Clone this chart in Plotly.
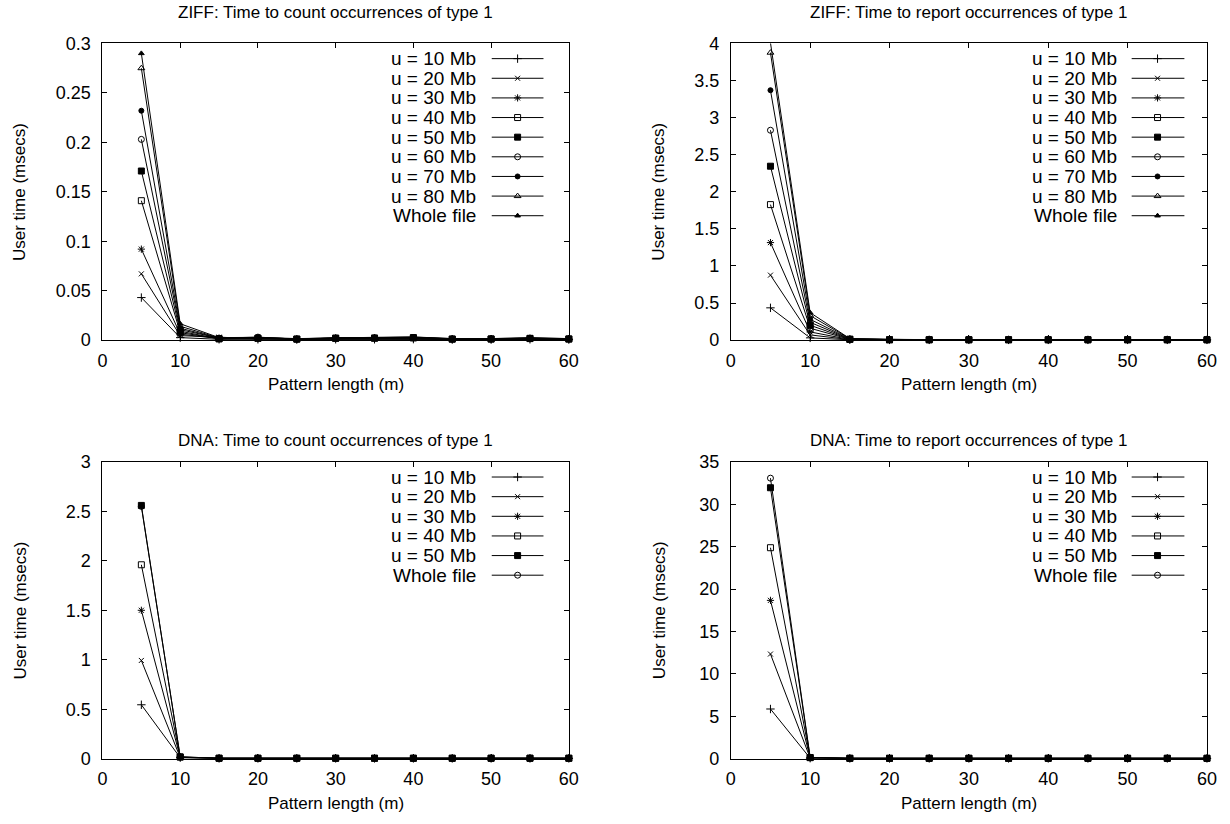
import plotly.graph_objects as go

W, H = 1230, 824
# measured viewer mapping: image = offset + scale * layout
SX, OXF = 0.993, 2.7
SY, OYF = 0.979, 8.1
FONT = "Liberation Sans, Arial, Helvetica, sans-serif"

# ---------------- data ----------------
m = [5, 10, 15, 20, 25, 30, 35, 40, 45, 50, 55, 60]
x_ticks = [0, 10, 20, 30, 40, 50, 60]

ziff_labels = ["u = 10 Mb", "u = 20 Mb", "u = 30 Mb", "u = 40 Mb", "u = 50 Mb",
               "u = 60 Mb", "u = 70 Mb", "u = 80 Mb", "Whole file"]
dna_labels = ["u = 10 Mb", "u = 20 Mb", "u = 30 Mb", "u = 40 Mb", "u = 50 Mb", "Whole file"]

# ZIFF: count (msecs)
zc_u10 = [0.043, 0.0025, 0.0008, 0.0008, 0.0005, 0.0008, 0.0008, 0.0010, 0.0005, 0.0005, 0.0008, 0.0005]
zc_u20 = [0.067, 0.0045, 0.0030, 0.0012, 0.0008, 0.0012, 0.0015, 0.0015, 0.0008, 0.0008, 0.0010, 0.0008]
zc_u30 = [0.092, 0.0060, 0.0015, 0.0015, 0.0008, 0.0015, 0.0015, 0.0020, 0.0008, 0.0010, 0.0015, 0.0010]
zc_u40 = [0.141, 0.0075, 0.0015, 0.0018, 0.0010, 0.0018, 0.0020, 0.0022, 0.0010, 0.0010, 0.0015, 0.0010]
zc_u50 = [0.171, 0.0090, 0.0012, 0.0020, 0.0010, 0.0020, 0.0020, 0.0025, 0.0010, 0.0012, 0.0018, 0.0012]
zc_u60 = [0.203, 0.0105, 0.0020, 0.0030, 0.0010, 0.0020, 0.0022, 0.0025, 0.0012, 0.0012, 0.0020, 0.0012]
zc_u70 = [0.232, 0.0120, 0.0020, 0.0025, 0.0012, 0.0022, 0.0025, 0.0028, 0.0012, 0.0015, 0.0020, 0.0015]
zc_u80 = [0.275, 0.0140, 0.0022, 0.0025, 0.0012, 0.0025, 0.0025, 0.0030, 0.0015, 0.0015, 0.0022, 0.0015]
zc_whole = [0.290, 0.0165, 0.0025, 0.0028, 0.0015, 0.0025, 0.0028, 0.0032, 0.0015, 0.0015, 0.0025, 0.0015]

# ZIFF: report (msecs)
zr_u10 = [0.435, 0.03, 0.004, 0.003, 0.003, 0.003, 0.003, 0.003, 0.003, 0.003, 0.003, 0.003]
zr_u20 = [0.876, 0.07, 0.006, 0.003, 0.003, 0.003, 0.003, 0.003, 0.003, 0.003, 0.003, 0.003]
zr_u30 = [1.315, 0.11, 0.008, 0.004, 0.004, 0.004, 0.004, 0.004, 0.004, 0.004, 0.004, 0.004]
zr_u40 = [1.827, 0.16, 0.010, 0.004, 0.004, 0.004, 0.004, 0.004, 0.004, 0.004, 0.004, 0.004]
zr_u50 = [2.345, 0.20, 0.012, 0.005, 0.005, 0.005, 0.005, 0.005, 0.005, 0.005, 0.005, 0.005]
zr_u60 = [2.830, 0.24, 0.014, 0.005, 0.005, 0.005, 0.005, 0.005, 0.005, 0.005, 0.005, 0.005]
zr_u70 = [3.370, 0.28, 0.016, 0.006, 0.006, 0.006, 0.006, 0.006, 0.006, 0.006, 0.006, 0.006]
zr_u80 = [3.876, 0.33, 0.018, 0.006, 0.006, 0.006, 0.006, 0.006, 0.006, 0.006, 0.006, 0.006]
zr_whole = [4.010, 0.37, 0.020, 0.007, 0.007, 0.007, 0.007, 0.007, 0.007, 0.007, 0.007, 0.007]

# DNA: count (msecs)
dc_u10 = [0.545, 0.010, 0.003, 0.003, 0.003, 0.003, 0.003, 0.003, 0.003, 0.003, 0.003, 0.003]
dc_u20 = [0.993, 0.012, 0.003, 0.003, 0.003, 0.003, 0.003, 0.003, 0.003, 0.003, 0.003, 0.003]
dc_u30 = [1.500, 0.014, 0.004, 0.004, 0.004, 0.004, 0.004, 0.004, 0.004, 0.004, 0.004, 0.004]
dc_u40 = [1.960, 0.016, 0.004, 0.004, 0.004, 0.004, 0.004, 0.004, 0.004, 0.004, 0.004, 0.004]
dc_u50 = [2.560, 0.018, 0.005, 0.005, 0.005, 0.005, 0.005, 0.005, 0.005, 0.005, 0.005, 0.005]
dc_whole = [2.550, 0.018, 0.005, 0.005, 0.005, 0.005, 0.005, 0.005, 0.005, 0.005, 0.005, 0.005]

# DNA: report (msecs)
dr_u10 = [5.86, 0.06, 0.03, 0.03, 0.03, 0.03, 0.03, 0.03, 0.03, 0.03, 0.03, 0.03]
dr_u20 = [12.34, 0.08, 0.03, 0.03, 0.03, 0.03, 0.03, 0.03, 0.03, 0.03, 0.03, 0.03]
dr_u30 = [18.67, 0.10, 0.04, 0.04, 0.04, 0.04, 0.04, 0.04, 0.04, 0.04, 0.04, 0.04]
dr_u40 = [24.88, 0.12, 0.04, 0.04, 0.04, 0.04, 0.04, 0.04, 0.04, 0.04, 0.04, 0.04]
dr_u50 = [31.95, 0.14, 0.05, 0.05, 0.05, 0.05, 0.05, 0.05, 0.05, 0.05, 0.05, 0.05]
dr_whole = [33.08, 0.15, 0.05, 0.05, 0.05, 0.05, 0.05, 0.05, 0.05, 0.05, 0.05, 0.05]

y_ticks_zc = [0, 0.05, 0.1, 0.15, 0.2, 0.25, 0.3]
y_ticks_zr = [0, 0.5, 1, 1.5, 2, 2.5, 3, 3.5, 4]
y_ticks_dc = [0, 0.5, 1, 1.5, 2, 2.5, 3]
y_ticks_dr = [0, 5, 10, 15, 20, 25, 30, 35]

titles = ["ZIFF: Time to count occurrences of type 1",
          "ZIFF: Time to report occurrences of type 1",
          "DNA: Time to count occurrences of type 1",
          "DNA: Time to report occurrences of type 1"]
x_title = "Pattern length (m)"
y_title = "User time (msecs)"

# gnuplot point types 1..9
SYM = ['cross-thin-open', 'x-thin-open', 'asterisk-open', 'square-open', 'square',
       'circle-open', 'circle', 'triangle-up-open', 'triangle-up']
SIZE = [6, 5, 6, 6, 6, 6, 5, 6, 5]

panels = [
    dict(series=[zc_u10, zc_u20, zc_u30, zc_u40, zc_u50, zc_u60, zc_u70, zc_u80, zc_whole],
         labels=ziff_labels, syms=[0, 1, 2, 3, 4, 5, 6, 7, 8], yt=y_ticks_zc, yr=[0, 0.3],
         px=(100.7, 569.5), py=(41.7, 339.3), ty=10.5),
    dict(series=[zr_u10, zr_u20, zr_u30, zr_u40, zr_u50, zr_u60, zr_u70, zr_u80, zr_whole],
         labels=ziff_labels, syms=[0, 1, 2, 3, 4, 5, 6, 7, 8], yt=y_ticks_zr, yr=[0, 4],
         px=(732.3, 1211.0), py=(41.7, 339.3), ty=10.5),
    dict(series=[dc_u10, dc_u20, dc_u30, dc_u40, dc_u50, dc_whole],
         labels=dna_labels, syms=[0, 1, 2, 3, 4, 5], yt=y_ticks_dc, yr=[0, 3],
         px=(100.7, 569.5), py=(461.5, 759.3), ty=440.0),
    dict(series=[dr_u10, dr_u20, dr_u30, dr_u40, dr_u50, dr_whole],
         labels=dna_labels, syms=[0, 1, 2, 3, 4, 5], yt=y_ticks_dr, yr=[0, 35],
         px=(732.3, 1211.0), py=(461.5, 759.3), ty=440.0),
]


def PX(x):  # target image pixel -> paper fraction
    return ((x - OXF) / SX) / W


def PY(y):
    return 1 - ((y - OYF) / SY) / H


fig = go.Figure()
layout = dict(width=W, height=H, margin=dict(l=0, r=0, t=0, b=0),
              paper_bgcolor="white", plot_bgcolor="rgba(0,0,0,0)",
              showlegend=False, font=dict(family=FONT, size=18, color="black"))
annotations = []


def fmt(v):
    return "%g" % v


for i, p in enumerate(panels):
    k = i + 1
    xa = "x" if k == 1 else "x%d" % k
    ya = "y" if k == 1 else "y%d" % k
    xd = [PX(p["px"][0]), PX(p["px"][1])]
    yd = [PY(p["py"][1]), PY(p["py"][0])]
    axcommon = dict(showline=True, linecolor="black", linewidth=1, mirror="ticks",
                    ticks="inside", ticklen=5, tickwidth=1, tickcolor="black",
                    showgrid=False, zeroline=False, fixedrange=True,
                    tickfont=dict(family=FONT, size=18, color="black"))
    layout["xaxis" if k == 1 else "xaxis%d" % k] = dict(
        domain=xd, anchor=ya, range=[0, 60], tickmode="array", tickvals=x_ticks,
        ticktext=[fmt(v) for v in x_ticks], ticklabelstandoff=4, **axcommon)
    layout["yaxis" if k == 1 else "yaxis%d" % k] = dict(
        domain=yd, anchor=xa, range=p["yr"], tickmode="array", tickvals=p["yt"],
        ticktext=[fmt(v) for v in p["yt"]], ticklabelstandoff=7, **axcommon)

    for s, lab, si in zip(p["series"], p["labels"], p["syms"]):
        fig.add_trace(go.Scatter(
            x=m, y=s, xaxis=xa, yaxis=ya, mode="lines+markers", name=lab,
            cliponaxis=False,
            line=dict(color="black", width=1),
            marker=dict(symbol=SYM[si], size=SIZE[si], color="black",
                        line=dict(color="black", width=1))))

    # panel title, axis titles
    cx = (p["px"][0] + p["px"][1]) / 2
    cy = (p["py"][0] + p["py"][1]) / 2
    annotations.append(dict(text=titles[i], x=PX(cx), y=PY(p["ty"]),
                            xref="paper", yref="paper", showarrow=False,
                            xanchor="center", yanchor="middle",
                            font=dict(family=FONT, size=17, color="black")))
    annotations.append(dict(text=x_title, x=PX(cx), y=PY(p["py"][1] + 45),
                            xref="paper", yref="paper", showarrow=False,
                            xanchor="center", yanchor="middle",
                            font=dict(family=FONT, size=17, color="black")))
    annotations.append(dict(text=y_title, x=PX(18 if k in (1, 3) else 660),
                            y=PY(cy), textangle=-90,
                            xref="paper", yref="paper", showarrow=False,
                            xanchor="center", yanchor="middle",
                            font=dict(family=FONT, size=17, color="black")))

    # gnuplot-style key (text left of the sample)
    x0 = p["px"][0]
    off = (377.3, 391.3, 417.3, 443.3) if k in (1, 3) else (390.0, 403.0, 429.0, 456.0)
    for r, (lab, si) in enumerate(zip(p["labels"], p["syms"])):
        ry = p["py"][0] + 15.2 + r * 19.7
        annotations.append(dict(text=lab, x=PX(x0 + off[0]), y=PY(ry),
                                xref="paper", yref="paper", showarrow=False,
                                xanchor="right", yanchor="middle",
                                font=dict(family=FONT, size=19, color="black")))
        fig.add_trace(go.Scatter(
            x=[PX(x0 + off[1]), PX(x0 + off[3])], y=[PY(ry), PY(ry)],
            xaxis="x5", yaxis="y5", mode="lines", cliponaxis=False,
            hoverinfo="skip", line=dict(color="black", width=1)))
        fig.add_trace(go.Scatter(
            x=[PX(x0 + off[2])], y=[PY(ry)],
            xaxis="x5", yaxis="y5", mode="markers", cliponaxis=False,
            hoverinfo="skip",
            marker=dict(symbol=SYM[si], size=SIZE[si], color="black",
                        line=dict(color="black", width=1))))

layout["xaxis5"] = dict(domain=[0, 1], anchor="y5", range=[0, 1], visible=False, fixedrange=True)
layout["yaxis5"] = dict(domain=[0, 1], anchor="x5", range=[0, 1], visible=False, fixedrange=True)
layout["annotations"] = annotations
fig.update_layout(**layout)
fig.write_html("out.html")
